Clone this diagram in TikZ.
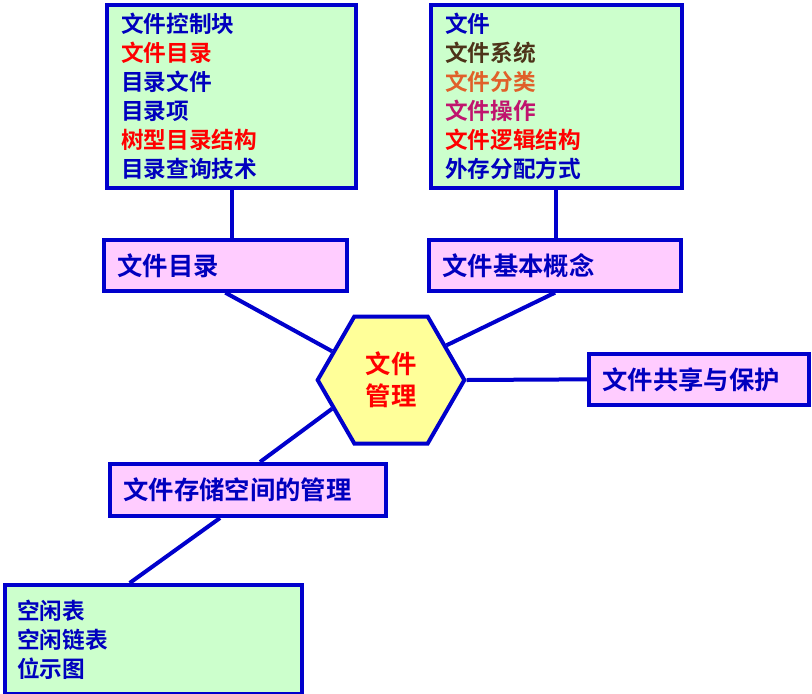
\documentclass[tikz,border=0pt]{standalone}
\usepackage{fontspec}
\setmainfont{Noto Sans CJK SC Bold}
\usetikzlibrary{shapes.geometric}
\definecolor{fblue}{RGB}{0,0,204}
\definecolor{tblue}{RGB}{0,0,190}
\definecolor{fgreen}{RGB}{204,255,204}
\definecolor{fpink}{RGB}{255,204,255}
\definecolor{fyellow}{RGB}{255,255,153}
\definecolor{tbrown}{RGB}{77,51,25}
\definecolor{torange}{RGB}{224,96,42}
\definecolor{tmagenta}{RGB}{192,20,110}
\definecolor{tred}{RGB}{255,0,0}
\tikzset{every picture/.style={line width=0.75pt}}
\tikzset{
  listbox/.style={draw=fblue,line width=3pt,fill=fgreen,anchor=north west,align=left,
    inner xsep=10.5pt,inner ysep=0pt,text=tblue,font=\fontsize{17}{21.75}\selectfont},
  topicbox/.style={draw=fblue,line width=3pt,fill=fpink,anchor=north west,align=left,
    inner xsep=10pt,inner ysep=0pt,text=tblue,font=\fontsize{19}{22}\selectfont},
  link/.style={draw=fblue,line width=3pt}
}
\begin{document}
\begin{tikzpicture}[x=0.75pt,y=0.75pt,yscale=-1,xscale=1]
    \useasboundingbox (0,0) rectangle (812,693);
    % green lists
    \node [listbox,text width=166pt,minimum height=137pt] (dirlist) at (105,3)
      {文件控制块\\\textcolor{tred}{文件目录}\\目录文件\\目录项\\\textcolor{tred}{树型目录结构}\\目录查询技术};
    \node [listbox,text width=167pt,minimum height=137pt] (baselist) at (429,3)
      {文件\\\textcolor{tbrown}{文件系统}\\\textcolor{torange}{文件分类}\\\textcolor{tmagenta}{文件操作}\\\textcolor{tred}{文件逻辑结构}\\外存分配方式};
    \node [listbox,text width=205pt,minimum height=82pt,inner xsep=9pt] (freelist) at (3,583)
      {空闲表\\空闲链表\\位示图};
    % topic boxes
    \node [topicbox,text width=162pt,minimum height=38pt] (dir) at (102,238) {文件目录};
    \node [topicbox,text width=169pt,minimum height=38pt] (base) at (427,238) {文件基本概念};
    \node [topicbox,text width=145pt,minimum height=38pt] (share) at (587,352) {文件共享与保护};
    \node [topicbox,text width=187pt,minimum height=39pt] (store) at (108,462) {文件存储空间的管理};
    % centre
    \node [regular polygon,regular polygon sides=6,minimum size=110pt,inner sep=0pt,
      draw=fblue,line width=3pt,fill=fyellow,text=tred,align=center,
      font=\fontsize{19}{24}\selectfont] (hex) at (391,380) {文件\\管理};
    % links
    \draw [link] (dirlist.south) -- (dirlist.south |- dir.north);
    \draw [link] (baselist.south) -- (baselist.south |- base.north);
    \draw [link] (dir.south) -- (hex.154);
    \draw [link] (base.south) -- (hex.32);
    \draw [link] (hex.east) -- (share.west);
    \draw [link] (hex.206) -- ([xshift=9pt]store.north);
    \draw [link] ([xshift=-21pt]store.south) -- ([xshift=-18pt]freelist.north);
\end{tikzpicture}
\end{document}
